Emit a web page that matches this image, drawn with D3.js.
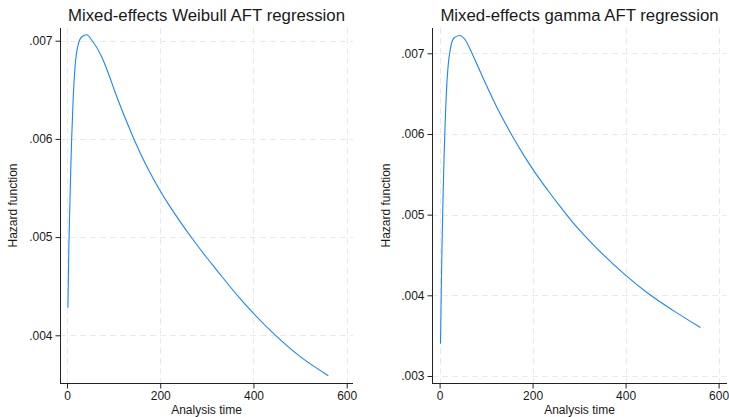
<!DOCTYPE html>
<html>
<head>
<meta charset="utf-8">
<script src="https://cdn.jsdelivr.net/npm/d3@7"></script>
<style>
  html, body { margin: 0; padding: 0; background: #fff; }
  svg { display: block; }
  text { font-family: "Liberation Sans", Arial, sans-serif; fill: #1a1a1a; }
</style>
</head>
<body>
<svg id="chart" width="729" height="417"></svg>
<script>
// ---- Data ----
const titles = ["Mixed-effects Weibull AFT regression", "Mixed-effects gamma AFT regression"];
const xLabel = "Analysis time";
const yLabel = "Hazard function";
const xTicks = [0, 200, 400, 600];
const yTicksWeibull = [0.004, 0.005, 0.006, 0.007];
const yTicksGamma = [0.003, 0.004, 0.005, 0.006, 0.007];

const weibullTime = [2, 4, 6, 8, 10, 13.6, 17, 24, 32, 42.3, 52.9, 74.4, 88.7, 101.5, 115.1, 129.4, 144.4, 160.9, 178.8, 198.8, 221, 245.3, 271, 298.2, 318.2, 371, 399, 449, 499, 560.5];
const weibullHazard = [0.00428, 0.00490, 0.00530, 0.00568, 0.00600, 0.00645, 0.00672, 0.00696, 0.00704, 0.00706, 0.007007, 0.006837, 0.006668, 0.006498, 0.006328, 0.006159, 0.005989, 0.005819, 0.005649, 0.005480, 0.005310, 0.005140, 0.004970, 0.004800, 0.004682, 0.004375, 0.004228, 0.003992, 0.003788, 0.003589];

const gammaTime = [2, 4, 5.8, 7.3, 9.4, 11.6, 14.4, 18, 23.7, 31, 43, 55.3, 69.6, 89, 105.4, 122.6, 141.3, 161.4, 182.9, 206.5, 232.3, 259.6, 288.2, 318.4, 401, 449.5, 503, 561];
const gammaHazard = [0.00340, 0.00420, 0.00477, 0.00518, 0.00566, 0.00607, 0.00649, 0.00682, 0.00707, 0.00719, 0.00722, 0.007165, 0.00700, 0.006752, 0.006545, 0.006338, 0.006132, 0.005925, 0.005719, 0.005512, 0.005306, 0.005099, 0.004892, 0.004700, 0.004245, 0.004020, 0.003810, 0.003600];

const xDomains = [[-15.0, 613.5], [-16.3, 618.1]];
const yDomains = [[0.0035143, 0.0071293], [0.0029132, 0.0073136]];

// ---- Layout ----
const panels = [
  { left: 60, right: 353, top: 28, bottom: 383, yTitleX: 16.5, title: titles[0],
    t: weibullTime, h: weibullHazard, yTicks: yTicksWeibull, xd: xDomains[0], yd: yDomains[0] },
  { left: 432, right: 727, top: 28, bottom: 383, yTitleX: 390, title: titles[1],
    t: gammaTime, h: gammaHazard, yTicks: yTicksGamma, xd: xDomains[1], yd: yDomains[1] }
];

const svg = d3.select("#chart");
const lineColor = "#1a85ff";
const gridColor = "#eaeaea";
const axisColor = "#222";
const fmt = v => d3.format(".3f")(v).replace(/^0/, "");

panels.forEach(p => {
  const x = d3.scaleLinear().domain(p.xd).range([p.left, p.right]);
  const y = d3.scaleLinear().domain(p.yd).range([p.bottom, p.top]);
  const g = svg.append("g");

  // gridlines
  g.append("g").selectAll("line").data(xTicks).join("line")
    .attr("x1", d => Math.round(x(d)) + 0.5).attr("x2", d => Math.round(x(d)) + 0.5)
    .attr("y1", p.top).attr("y2", p.bottom)
    .attr("stroke", gridColor).attr("stroke-width", 1).attr("stroke-dasharray", "6,4");
  g.append("g").selectAll("line").data(p.yTicks).join("line")
    .attr("x1", p.left).attr("x2", p.right)
    .attr("y1", d => Math.round(y(d)) + 0.5).attr("y2", d => Math.round(y(d)) + 0.5)
    .attr("stroke", gridColor).attr("stroke-width", 1).attr("stroke-dasharray", "6,4");

  // curve
  const pts = p.t.map((t, i) => [t, p.h[i]]);
  g.append("path").datum(pts)
    .attr("fill", "none").attr("stroke", lineColor).attr("stroke-width", 1.1)
    .attr("stroke-linejoin", "round")
    .attr("d", d3.line().x(d => x(d[0])).y(d => y(d[1])).curve(d3.curveMonotoneX));

  // axes
  const xAxis = g.append("g").attr("transform", `translate(0,${p.bottom + 0.5})`)
    .call(d3.axisBottom(x).tickValues(xTicks).tickSize(5).tickPadding(3).tickFormat(d3.format("d")));
  const yAxis = g.append("g").attr("transform", `translate(${p.left + 0.5},0)`)
    .call(d3.axisLeft(y).tickValues(p.yTicks).tickSize(5).tickPadding(3).tickFormat(fmt));
  [xAxis, yAxis].forEach(a => {
    a.select(".domain").attr("stroke", axisColor).attr("stroke-width", 1);
    a.selectAll(".tick line").attr("stroke", axisColor);
    a.selectAll(".tick text").attr("font-size", 12).attr("fill", "#1a1a1a")
      .attr("font-family", "Liberation Sans, Arial, sans-serif");
  });
  xAxis.select(".domain").attr("d", `M${p.left},0H${p.right}`);
  yAxis.select(".domain").attr("d", `M0,${p.top}V${p.bottom}`);

  // titles
  g.append("text").attr("x", (p.left + p.right) / 2).attr("y", 20.5)
    .attr("text-anchor", "middle").attr("font-size", 16.8).text(p.title);
  g.append("text").attr("x", (p.left + p.right) / 2).attr("y", 414.3)
    .attr("text-anchor", "middle").attr("font-size", 12).text(xLabel);
  g.append("text").attr("transform", `translate(${p.yTitleX},${(p.top + p.bottom) / 2}) rotate(-90)`)
    .attr("text-anchor", "middle").attr("font-size", 12).text(yLabel);
});
</script>
</body>
</html>
